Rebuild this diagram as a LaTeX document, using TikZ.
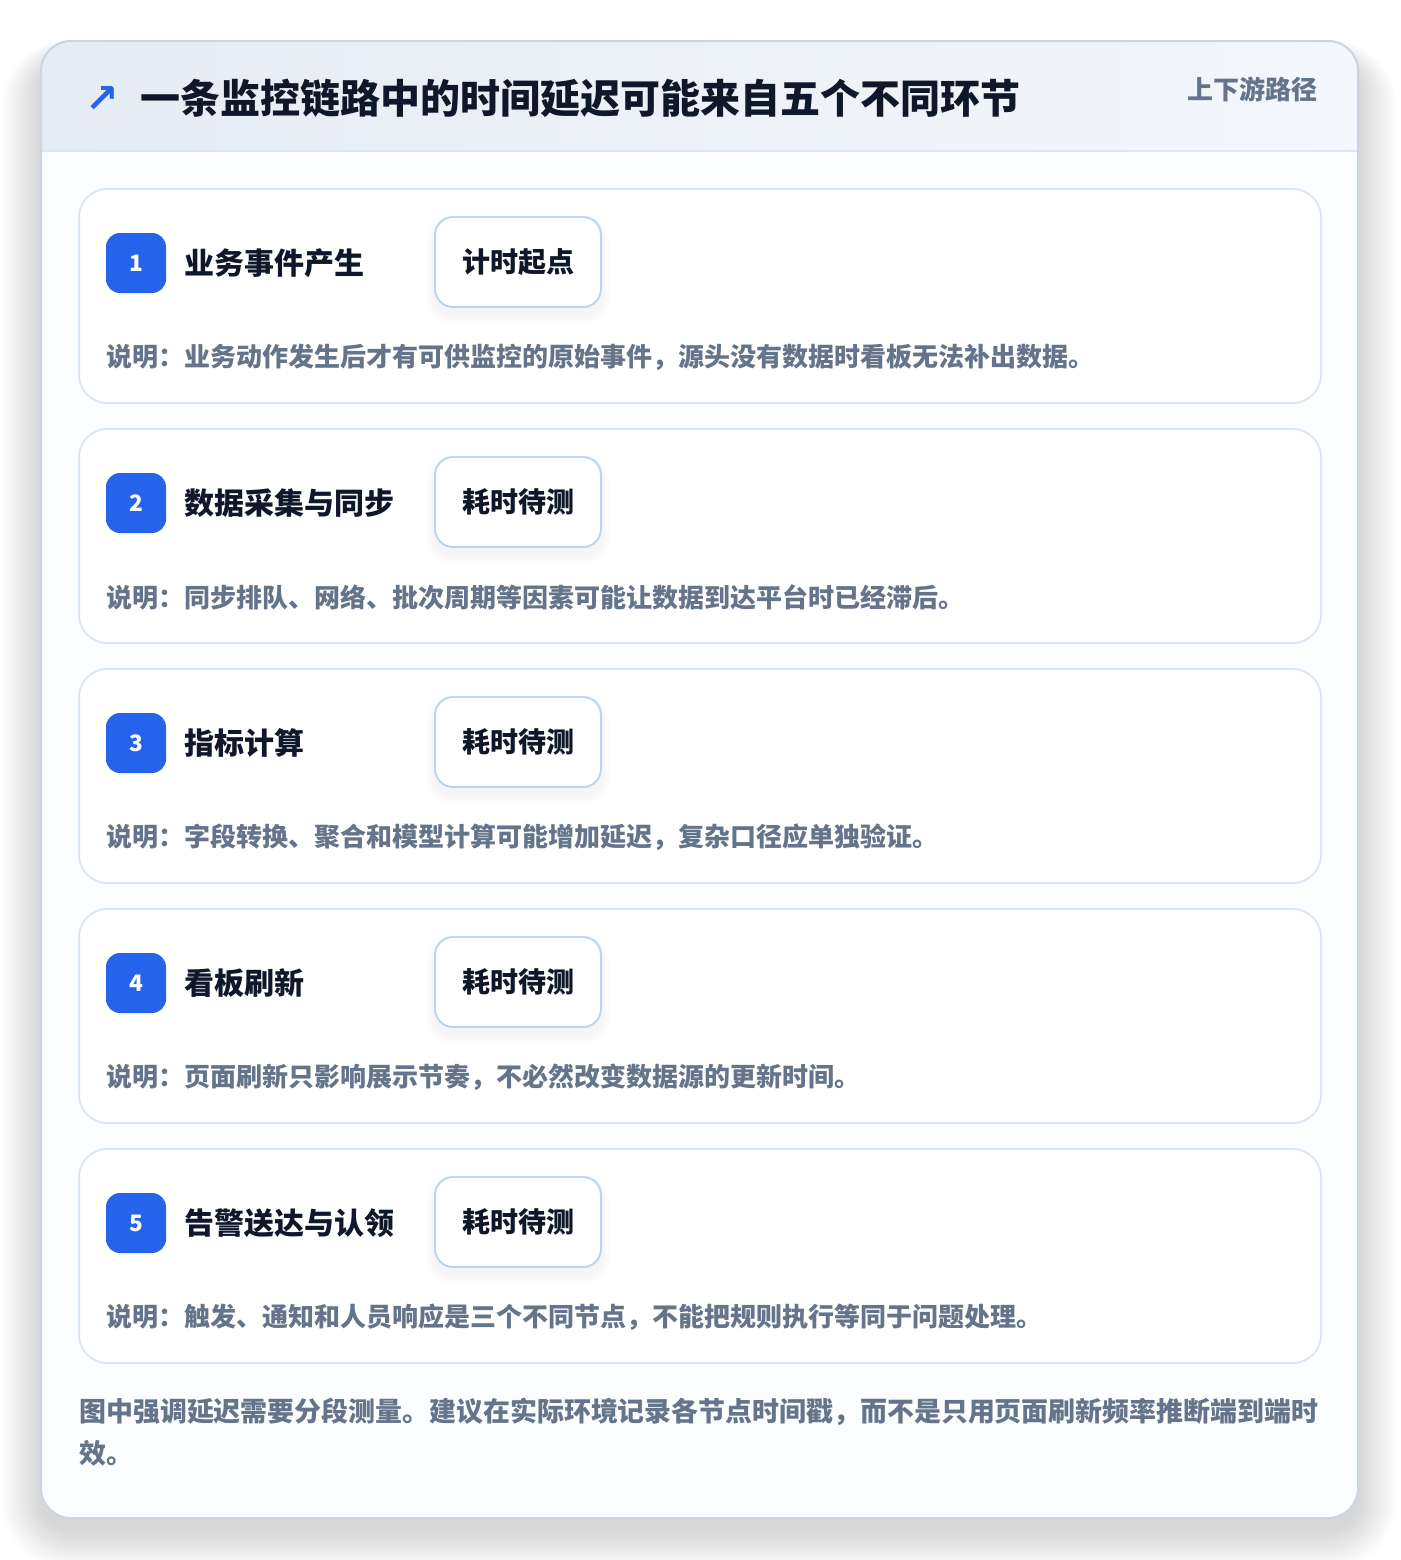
\documentclass[tikz,border=0pt]{standalone}
\usepackage{fontspec}
\setmainfont{Noto Sans CJK SC}[BoldFont={Noto Sans CJK SC Black}]
\newfontfamily\symfont{DejaVu Sans}
\usetikzlibrary{positioning}
\definecolor{inkdark}{HTML}{0F172A}
\definecolor{inkgray}{HTML}{64748B}
\definecolor{badgeblue}{HTML}{2563EB}
\definecolor{framec}{HTML}{CBD5E1}
\definecolor{framefill}{HTML}{FCFDFE}
\definecolor{hdrl}{HTML}{E6ECF4}
\definecolor{hdrr}{HTML}{F4F7FB}
\definecolor{hdrline}{HTML}{DBE7F6}
\definecolor{cardline}{HTML}{DBE7F7}
\definecolor{tagline}{HTML}{BCD4F5}
\definecolor{shadowc}{HTML}{334155}
\newcommand{\px}{0.75pt}
\tikzset{
  card/.style={draw=cardline, line width=1.5pt, fill=white, rounded corners=21pt,
    minimum width=931.5pt, minimum height=160.5pt, inner sep=0pt},
  badge/.style={fill=badgeblue, rounded corners=10.5pt, minimum width=45pt,
    minimum height=45pt, inner sep=0pt, text=white,
    font=\fontsize{17pt}{18pt}\selectfont\bfseries},
  steptitle/.style={anchor=west, inner sep=0pt, text=inkdark,
    font=\fontsize{22.5pt}{26pt}\selectfont\bfseries},
  tagbox/.style={draw=tagline, line width=1.5pt, fill=white, rounded corners=13.5pt,
    minimum width=124.5pt, minimum height=67.5pt, inner sep=0pt, text=inkdark,
    font=\fontsize{21pt}{24pt}\selectfont\bfseries},
  desc/.style={anchor=west, inner sep=0pt, text=inkgray,
    font=\fontsize{19.5pt}{22pt}\selectfont\bfseries},
}
\begin{document}
\begin{tikzpicture}[x=\px, y=-\px]
  \useasboundingbox (0,0) rectangle (1400,1560);
  \fill[white] (0,0) rectangle (1400,1560);
  % soft shadow under the frame
  \foreach \s in {1,...,40}
    \fill[shadowc, opacity=0.0025, rounded corners={(30+\s)*\px}]
      (41-\s,41-0.5*\s+18) rectangle (1358+\s,1518+\s+12);
  % outer frame
  \fill[framefill, rounded corners=22.5pt] (41,41) rectangle (1358,1518);
  \begin{scope}
    \clip[rounded corners=22.5pt] (41,41) rectangle (1358,1518);
    \shade[left color=hdrl, right color=hdrr] (41,41) rectangle (1358,151);
  \end{scope}
  \draw[hdrline, line width=1.5pt] (41,151) -- (1358,151);
  \draw[framec, line width=1.5pt, rounded corners=22.5pt] (41,41) rectangle (1358,1518);
  % header
  \node[text=badgeblue, inner sep=0pt, font=\symfont\bfseries\fontsize{30pt}{32pt}\selectfont]
    (icon) at (102,99) {↗};
  \node[anchor=west, inner sep=0pt, text=inkdark,
    font=\fontsize{30pt}{34pt}\selectfont\bfseries]
    (title) at (140,98) {一条监控链路中的时间延迟可能来自五个不同环节};
  \node[anchor=east, inner sep=0pt, text=inkgray,
    font=\fontsize{19.5pt}{22pt}\selectfont\bfseries]
    (path) at (1318,89) {上下游路径};
  % steps
  \foreach \i/\ttl/\tg/\ds in {
      1/业务事件产生/计时起点/说明：业务动作发生后才有可供监控的原始事件，源头没有数据时看板无法补出数据。,
      2/数据采集与同步/耗时待测/说明：同步排队、网络、批次周期等因素可能让数据到达平台时已经滞后。,
      3/指标计算/耗时待测/说明：字段转换、聚合和模型计算可能增加延迟，复杂口径应单独验证。,
      4/看板刷新/耗时待测/说明：页面刷新只影响展示节奏，不必然改变数据源的更新时间。,
      5/告警送达与认领/耗时待测/说明：触发、通知和人员响应是三个不同节点，不能把规则执行等同于问题处理。}{
    \pgfmathsetmacro\cy{296+240*(\i-1)}
    \node[card] (card\i) at (700,\cy) {};
    \node[badge] (badge\i) at (136,\cy-33) {\i};
    \node[steptitle] (name\i) at (184,\cy-33) {\ttl};
    % shadow under the tag
    \foreach \s in {1,...,10}
      \fill[shadowc, opacity=0.005, rounded corners={(18+\s)*\px}]
        (435-\s,\cy-79-\s+8) rectangle (601+\s,\cy+11+\s+8);
    \node[tagbox] (tag\i) at (518,\cy-34) {\tg};
    \node[desc] (desc\i) at (106,\cy+61) {\ds};
  }
  % closing note
  \node[anchor=north west, inner sep=0pt, text=inkgray, align=left,
    font=\fontsize{20.2pt}{31.5pt}\selectfont\bfseries]
    (note) at (79,1398) {图中强调延迟需要分段测量。建议在实际环境记录各节点时间戳，而不是只用页面刷新频率推断端到端时\\效。};
\end{tikzpicture}
\end{document}
